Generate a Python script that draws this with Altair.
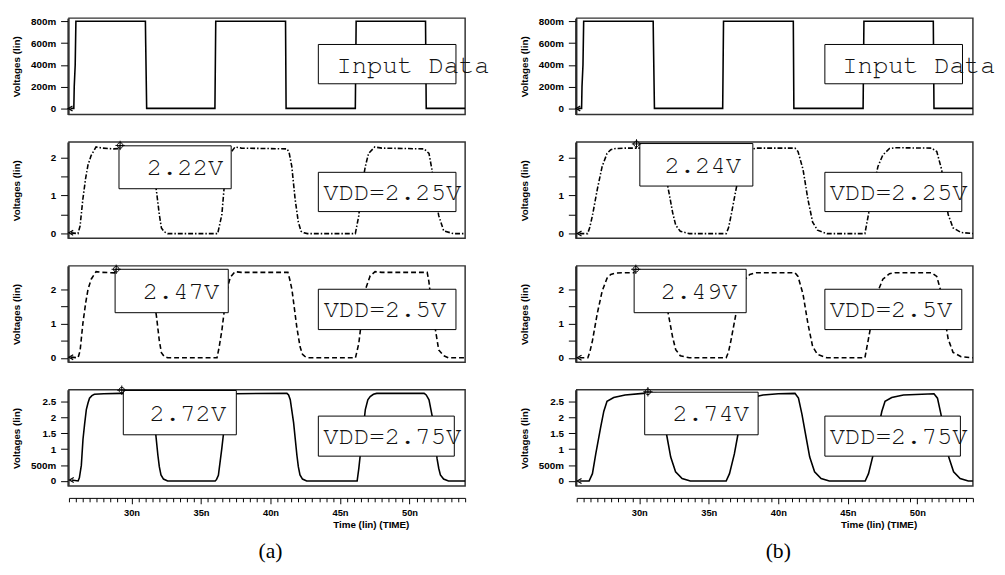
import altair as alt
import pandas as pd

# ---------------- data (time in ns, voltage in V) ----------------
T_DOMAIN = [25.5, 54.0]
X_TICKS = [25.5 + 0.5 * i for i in range(58)]

IN_A = [(25.6, 0), (25.85, 0), (25.88, 0.2), (25.95, 0.4), (26.0, 0.8), (31.0, 0.8), (31.02, 0.6),
        (31.09, 0), (36.0, 0), (36.03, 0.4), (36.06, 0.8), (41.08, 0.8), (41.12, 0), (46.1, 0),
        (46.13, 0.4), (46.16, 0.8), (51.15, 0.8), (51.2, 0), (54.0, 0)]
IN_B = [(25.6, 0), (25.85, 0), (25.88, 0.2), (25.95, 0.4), (26.0, 0.8), (31.0, 0.8), (31.02, 0.6),
        (31.09, 0), (36.0, 0), (36.03, 0.4), (36.06, 0.8), (41.08, 0.8), (41.12, 0), (46.1, 0),
        (46.13, 0.4), (46.16, 0.8), (51.15, 0.8), (51.2, 0), (54.0, 0)]

V225_A = [(25.65, 0.02), (26.15, 0), (26.3, 0.2), (26.5, 0.9), (26.7, 1.45), (26.87, 1.8), (27.1, 2.05),
          (27.45, 2.27), (27.9, 2.24), (28.7, 2.22), (29.2, 2.23), (31.2, 2.22), (31.35, 2.1),
          (31.55, 1.75), (31.8, 1.1), (32.0, 0.5), (32.15, 0.15), (32.35, 0.05), (32.6, 0), (36.2, 0),
          (36.35, 0.25), (36.5, 0.5), (36.65, 1.15), (36.85, 1.75), (37.1, 2.1), (37.45, 2.27),
          (37.9, 2.24), (41.2, 2.22), (41.35, 2.1), (41.53, 1.76), (41.77, 0.9), (42.0, 0.3),
          (42.2, 0.06), (42.4, 0.02), (42.65, 0), (46.1, 0), (46.35, 0.47), (46.55, 1.2), (46.82, 1.76),
          (47.05, 2.1), (47.5, 2.27), (48.0, 2.24), (51.05, 2.22), (51.4, 2.1), (51.6, 1.7),
          (51.85, 1.0), (52.1, 0.47), (52.46, 0.07), (53.15, 0), (54.05, 0)]
V250_A = [(25.65, 0.02), (26.15, 0), (26.3, 0.2), (26.5, 1.0), (26.7, 1.6), (26.87, 2.0), (27.1, 2.3),
          (27.45, 2.52), (27.9, 2.5), (29.1, 2.48), (31.2, 2.48), (31.35, 2.3), (31.55, 1.9),
          (31.8, 1.2), (32.0, 0.5), (32.15, 0.15), (32.35, 0.04), (32.6, 0), (36.15, 0), (36.3, 0.3),
          (36.5, 0.8), (36.65, 1.3), (36.85, 1.95), (37.1, 2.35), (37.45, 2.52), (37.9, 2.5),
          (41.25, 2.5), (41.38, 2.3), (41.54, 2.0), (41.89, 0.9), (42.12, 0.33), (42.3, 0.1),
          (42.47, 0.04), (42.7, 0), (46.11, 0), (46.35, 0.42), (46.55, 1.1), (46.82, 1.99),
          (47.17, 2.4), (47.52, 2.52), (48.0, 2.5), (51.27, 2.5), (51.39, 2.24), (51.6, 1.5),
          (51.87, 0.8), (52.1, 0.23), (52.46, 0.06), (52.8, 0), (54.05, 0)]
V275_A = [(25.69, 0.03), (26.16, 0), (26.25, 0.1), (26.39, 0.49), (26.51, 1.31), (26.63, 1.8),
          (26.75, 2.24), (26.87, 2.45), (26.98, 2.6), (27.15, 2.68), (27.33, 2.72), (28.0, 2.74),
          (29.2, 2.75), (31.18, 2.75), (31.3, 2.7), (31.42, 2.55), (31.66, 1.83), (31.9, 0.8),
          (32.0, 0.45), (32.12, 0.19), (32.3, 0.06), (32.6, 0), (36.02, 0), (36.12, 0.05),
          (36.25, 0.18), (36.49, 1.0), (36.6, 1.42), (36.8, 2.1), (36.95, 2.5), (37.15, 2.68),
          (37.4, 2.74), (41.18, 2.75), (41.3, 2.7), (41.42, 2.55), (41.66, 1.83), (41.9, 0.8),
          (42.0, 0.45), (42.12, 0.19), (42.3, 0.06), (42.6, 0), (46.23, 0), (46.35, 0.39),
          (46.55, 1.2), (46.82, 2.24), (47.0, 2.55), (47.17, 2.65), (47.4, 2.72), (47.64, 2.75),
          (51.05, 2.75), (51.2, 2.7), (51.4, 2.55), (51.63, 2.04), (51.8, 1.4), (51.98, 0.7),
          (52.1, 0.4), (52.22, 0.19), (52.45, 0.06), (52.8, 0), (54.05, 0)]

V225_B = [(25.69, 0), (26.28, 0), (26.43, 0.15), (26.63, 0.47), (26.98, 1.16), (27.33, 1.76),
          (27.68, 2.1), (27.95, 2.2), (28.3, 2.23), (29.0, 2.24), (31.25, 2.24), (31.45, 2.16),
          (31.8, 1.7), (32.15, 1.05), (32.4, 0.55), (32.62, 0.22), (32.95, 0.06), (33.6, 0),
          (36.25, 0), (36.42, 0.15), (36.6, 0.47), (36.96, 1.16), (37.3, 1.76), (37.62, 2.08),
          (37.95, 2.2), (38.4, 2.24), (41.2, 2.24), (41.42, 2.15), (41.78, 1.68), (42.13, 0.9),
          (42.47, 0.3), (42.82, 0.09), (43.5, 0), (46.23, 0), (46.47, 0.47), (46.82, 1.16),
          (47.17, 1.76), (47.52, 2.06), (48.0, 2.23), (48.4, 2.25), (51.03, 2.24), (51.4, 2.15),
          (51.75, 1.68), (52.0, 1.0), (52.22, 0.5), (52.57, 0.15), (53.15, 0.03), (54.05, 0)]
V250_B = [(25.69, 0), (26.3, 0), (26.45, 0.18), (26.63, 0.5), (26.98, 1.3), (27.33, 1.95),
          (27.68, 2.33), (27.95, 2.44), (28.3, 2.48), (29.0, 2.49), (31.25, 2.49), (31.45, 2.4),
          (31.8, 1.88), (32.15, 1.15), (32.4, 0.6), (32.62, 0.24), (32.95, 0.06), (33.6, 0),
          (36.25, 0), (36.42, 0.17), (36.6, 0.52), (36.96, 1.3), (37.3, 1.95), (37.62, 2.3),
          (37.95, 2.44), (38.4, 2.49), (41.2, 2.49), (41.42, 2.38), (41.78, 1.86), (42.13, 1.0),
          (42.47, 0.33), (42.82, 0.1), (43.5, 0), (46.23, 0), (46.47, 0.52), (46.82, 1.3),
          (47.17, 1.95), (47.52, 2.3), (48.0, 2.46), (48.4, 2.49), (51.03, 2.49), (51.4, 2.38),
          (51.75, 1.86), (52.0, 1.1), (52.22, 0.55), (52.57, 0.16), (53.15, 0.03), (54.05, 0)]
V275_B = [(25.69, 0), (26.39, 0), (26.63, 0.23), (26.87, 0.85), (27.22, 1.68), (27.45, 2.19),
          (27.68, 2.5), (28.16, 2.62), (28.98, 2.7), (30.27, 2.75), (31.2, 2.75), (31.45, 2.6),
          (31.7, 2.1), (31.98, 1.42), (32.26, 0.75), (32.61, 0.29), (33.08, 0.08), (33.67, 0),
          (36.25, 0), (36.49, 0.23), (36.84, 0.85), (37.08, 1.42), (37.4, 2.15), (37.65, 2.5),
          (38.1, 2.62), (38.9, 2.7), (40.0, 2.74), (41.2, 2.75), (41.45, 2.6), (41.7, 2.1),
          (41.98, 1.42), (42.26, 0.75), (42.61, 0.29), (43.08, 0.08), (43.67, 0), (46.25, 0),
          (46.49, 0.23), (46.84, 0.85), (47.2, 1.68), (47.45, 2.19), (47.68, 2.5), (48.16, 2.62),
          (49.0, 2.7), (51.2, 2.74), (51.45, 2.6), (51.7, 2.1), (51.98, 1.42), (52.26, 0.75),
          (52.61, 0.29), (53.08, 0.08), (53.67, 0), (54.05, 0)]

# annotation boxes (t1, t2, v1, v2), labels (t, v, text), cursor markers (t, v)
ANN = {
    "a1": dict(boxes=[(43.44, 53.34, 0.226, 0.587)], labels=[(44.74, 0.40, "Input Data")], marks=[]),
    "a2": dict(boxes=[(29.1, 37.17, 1.176, 2.30), (43.44, 53.34, 0.577, 1.606)],
               labels=[(31.09, 1.74, "2.22V"), (43.8, 1.09, "VDD=2.25V")], marks=[(29.18, 2.31)]),
    "a3": dict(boxes=[(28.82, 36.96, 1.32, 2.59), (43.44, 53.34, 0.826, 2.006)],
               labels=[(30.8, 1.96, "2.47V"), (43.82, 1.416, "VDD=2.5V")], marks=[(28.9, 2.59)]),
    "a4": dict(boxes=[(29.41, 37.54, 1.45, 2.84), (43.44, 53.22, 0.78, 2.037)],
               labels=[(31.3, 2.145, "2.72V"), (43.8, 1.407, "VDD=2.75V")], marks=[(29.3, 2.85)]),
    "b1": dict(boxes=[(43.35, 53.25, 0.226, 0.587)], labels=[(44.6, 0.40, "Input Data")], marks=[]),
    "b2": dict(boxes=[(30.04, 38.17, 1.246, 2.36), (43.35, 53.2, 0.577, 1.606)],
               labels=[(31.81, 1.80, "2.24V"), (43.7, 1.09, "VDD=2.25V")], marks=[(29.8, 2.35)]),
    "b3": dict(boxes=[(29.63, 37.69, 1.32, 2.59), (43.35, 53.2, 0.826, 2.006)],
               labels=[(31.54, 1.96, "2.49V"), (43.7, 1.416, "VDD=2.5V")], marks=[(29.75, 2.59)]),
    "b4": dict(boxes=[(30.39, 38.55, 1.45, 2.787), (43.35, 53.1, 0.78, 2.037)],
               labels=[(32.39, 2.117, "2.74V"), (43.7, 1.407, "VDD=2.75V")], marks=[(30.62, 2.80)]),
}
CAPTIONS = {"a": "(a)", "b": "(b)"}

Y_DOMAINS = [[-0.056, 0.829], [-0.124, 2.40], [-0.129, 2.69], [-0.16, 2.864]]
Y_VALUES = [[0, 0.2, 0.4, 0.6, 0.8], [0, 0.5, 1, 1.5, 2], [0, 0.5, 1, 1.5, 2], [0, 0.5, 1, 1.5, 2, 2.5]]
Y_LABEL_EXPR = [
    "datum.value == 0 ? '0' : round(datum.value * 1000) + 'm'",
    "datum.value % 1 == 0 ? datum.value + '' : ''",
    "datum.value % 1 == 0 ? datum.value + '' : ''",
    "datum.value == 0 ? '0' : (datum.value == 0.5 ? '500m' : datum.value + '')",
]
DASHES = [None, [5, 2, 1.5, 2], [5, 3], None]

W, H = 403, 98
AX_FONT = "Liberation Sans"
MONO = "Nimbus Mono PS, Nimbus Mono L, FreeMono, Liberation Mono, monospace"
CURSOR = "M-0.6,0A0.6,0.6 0 1,1 0.6,0A0.6,0.6 0 1,1 -0.6,0M-1,0L1,0M0,-1L0,1"
START = "M0.7,-0.8L-0.7,0L0.7,0.8"


def panel(wave, idx, ann, bottom, caption):
    xs = alt.Scale(domain=T_DOMAIN, nice=False, zero=False)
    ys = alt.Scale(domain=Y_DOMAINS[idx], nice=False, zero=False)
    if bottom:
        xaxis = alt.Axis(values=X_TICKS, labelExpr="datum.value % 5 == 0 ? datum.value + 'n' : ''",
                         title="Time (lin) (TIME)", offset=12, labelOverlap=False, labelFlush=False,
                         tickSize={"condition": {"test": "datum.value % 5 == 0", "value": 6}, "value": 4},
                         labelPadding=4, labelFontSize=9.5,
                         titleX=307, titleY=27, titleAlign="center", titleBaseline="middle")
    else:
        xaxis = None
    yaxis = alt.Axis(values=Y_VALUES[idx], labelExpr=Y_LABEL_EXPR[idx], title="Voltages (lin)",
                     tickSize=7, labelPadding=5, offset=1.5, labelOverlap=False,
                     titleX=-51.5, titleY=H / 2, titleAngle=270, titleAlign="center",
                     titleBaseline="middle")

    def enc(field="t", vfield="v"):
        return dict(x=alt.X(f"{field}:Q", scale=xs, axis=xaxis),
                    y=alt.Y(f"{vfield}:Q", scale=ys, axis=yaxis))

    df = pd.DataFrame(wave, columns=["t", "v"])
    kw = dict(color="black", strokeWidth=1.6, clip=True)
    if DASHES[idx] is not None:
        kw["strokeDash"] = DASHES[idx]
    line = alt.Chart(df).mark_line(**kw).encode(**enc())
    start = alt.Chart(df.head(1)).mark_point(shape=START, size=40, color="black", filled=False,
                                             strokeWidth=1.2, opacity=1).encode(**enc())
    bdf = pd.DataFrame(ann["boxes"], columns=["t1", "t2", "v1", "v2"])
    rect = alt.Chart(bdf).mark_rect(fill="white", stroke="black", strokeWidth=1).encode(
        x2="t2:Q", y2="v2:Q", **enc("t1", "v1"))
    ldf = pd.DataFrame(ann["labels"], columns=["t", "v", "txt"])
    text = alt.Chart(ldf).mark_text(font=MONO, fontSize=26, align="left", baseline="middle",
                                    color="#111111").encode(text="txt:N", **enc())
    layers = [line, start, rect, text]
    if ann["marks"]:
        mdf = pd.DataFrame(ann["marks"], columns=["t", "v"])
        layers.append(alt.Chart(mdf).mark_point(shape=CURSOR, size=90, color="black", filled=False,
                                                strokeWidth=1, opacity=1).encode(**enc()))
    if bottom:
        cdf = pd.DataFrame({"cap": [caption]})
        layers.append(alt.Chart(cdf).mark_text(font="Liberation Serif", fontSize=22, align="center",
                                               baseline="middle", color="black").encode(
            text="cap:N", x=alt.value(205), y=alt.value(H + 66)))
    return alt.layer(*layers).properties(width=W, height=H)


def column(waves, key):
    panels = [panel(w, i, ANN[f"{key}{i + 1}"], i == 3, CAPTIONS[key]) for i, w in enumerate(waves)]
    return alt.vconcat(*panels, spacing=28, bounds="flush")


colA = column([IN_A, V225_A, V250_A, V275_A], "a")
colB = column([IN_B, V225_B, V250_B, V275_B], "b")

chart = alt.hconcat(colA, colB, spacing=28.5).properties(
    padding={"left": 3, "top": 2.5, "right": 0, "bottom": 0}
).configure_view(stroke="#333", strokeWidth=1.5).configure_axis(
    labelFont=AX_FONT, labelFontWeight="bold", labelFontSize=10, labelColor="black",
    titleFont=AX_FONT, titleFontWeight="bold", titleFontSize=10, titleColor="black",
    domainColor="black", tickColor="black", grid=False
).configure_title(color="black")

chart.save("out.html", embed_options={"renderer": "svg", "actions": False})
